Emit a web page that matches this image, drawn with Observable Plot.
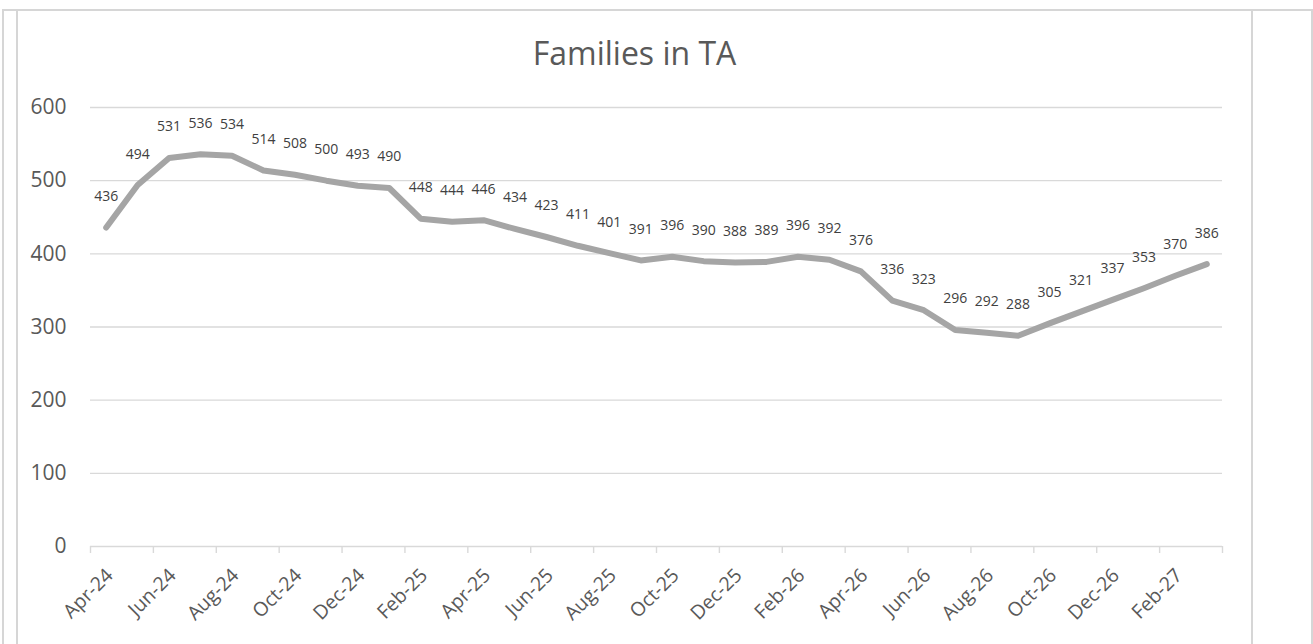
<!DOCTYPE html>
<html><head><meta charset="utf-8">
<script src="https://cdn.jsdelivr.net/npm/d3@7"></script>
<script src="https://cdn.jsdelivr.net/npm/@observablehq/plot@0.6"></script>
<style>
html,body{margin:0;padding:0;background:#fff;}
body{width:1313px;height:644px;overflow:hidden;position:relative;font-family:"Open Sans",sans-serif;}
#title{position:absolute;left:17px;width:1235px;top:37px;line-height:32px;text-align:center;font-size:32px;color:#595959;}
.ln{position:absolute;background:#d6d6d6;}
#chart{position:absolute;left:0;top:80px;}
</style>
</head><body>
<div class="ln" style="left:2px;top:9px;width:1311px;height:2px;"></div>
<div class="ln" style="left:2px;top:9px;width:2px;height:640px;"></div>
<div class="ln" style="left:16px;top:9px;width:2px;height:640px;"></div>
<div class="ln" style="left:1251px;top:9px;width:2px;height:640px;"></div>
<div class="ln" style="left:1311px;top:9px;width:2px;height:640px;"></div>
<div id="title">Families in TA</div>
<div id="chart"></div>
<script>
const months = ["Apr-24","May-24","Jun-24","Jul-24","Aug-24","Sep-24","Oct-24","Nov-24","Dec-24","Jan-25","Feb-25","Mar-25",
  "Apr-25","May-25","Jun-25","Jul-25","Aug-25","Sep-25","Oct-25","Nov-25","Dec-25","Jan-26","Feb-26","Mar-26",
  "Apr-26","May-26","Jun-26","Jul-26","Aug-26","Sep-26","Oct-26","Nov-26","Dec-26","Jan-27","Feb-27","Mar-27"];
const families = [436,494,531,536,534,514,508,500,493,490,448,444,446,434,423,411,401,391,396,390,388,389,396,392,376,336,323,296,292,288,305,321,337,353,370,386];
const yTicks = [0,100,200,300,400,500,600];

const data = months.map((m,i)=>({month:m, pos:i+0.5, value:families[i]}));
const labelled = data.filter((d,i)=>i%2===0);
const boundaries = d3.range(0, months.length+1, 2);

const chart = Plot.plot({
  width: 1313, height: 564,
  marginTop: 27, marginBottom: 98, marginLeft: 90, marginRight: 91,
  style: {fontFamily: "Open Sans", background: "transparent"},
  x: {type: "linear", domain: [0, months.length], axis: null},
  y: {domain: [0, 600], axis: null},
  marks: [
    Plot.gridY(yTicks, {stroke: "#d9d9d9", strokeOpacity: 1, strokeWidth: 1.4}),
    Plot.text(yTicks, {y: d => d, text: d => String(d), frameAnchor: "left", textAnchor: "end", dx: -24, fontSize: 21, fill: "#595959"}),
    Plot.axisX(boundaries, {tickSize: 7, tickFormat: () => "", stroke: "#d9d9d9", strokeWidth: 1.4, label: null}),
    Plot.text(labelled, {x: "pos", text: "month", frameAnchor: "bottom", rotate: -45, textAnchor: "end", dx: 8, dy: 30, fontSize: 19.5, fill: "#595959"}),
    Plot.line(data, {x: "pos", y: "value", stroke: "#a5a5a5", strokeWidth: 6, strokeLinejoin: "round", strokeLinecap: "round"}),
    Plot.text(data, {x: "pos", y: "value", text: d => String(d.value), dy: -31, fontSize: 14, fill: "#404040"})
  ]
});
document.getElementById("chart").appendChild(chart);
</script>
</body></html>
